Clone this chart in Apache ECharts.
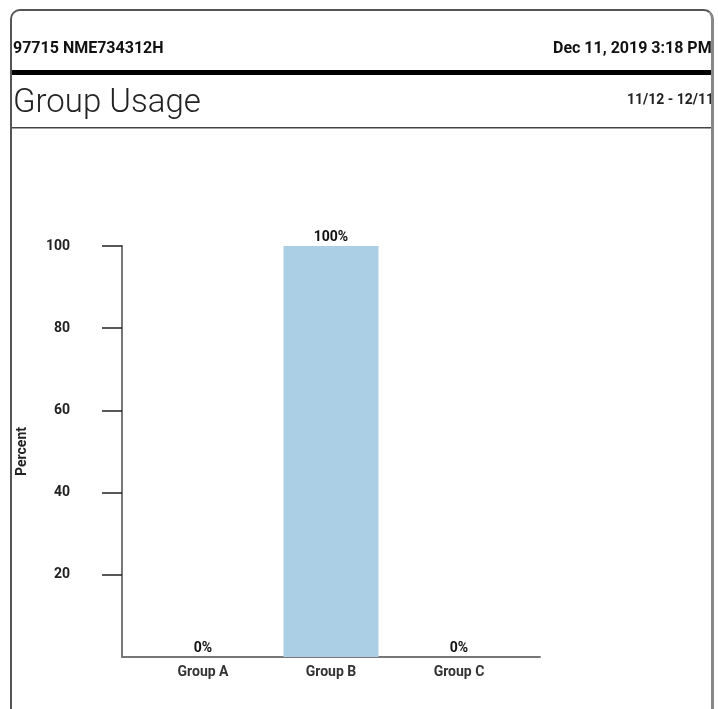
<!DOCTYPE html>
<html>
<head>
<meta charset="utf-8">
<script src="https://cdn.jsdelivr.net/npm/echarts@6/dist/echarts.min.js"></script>
<style>
  body { margin: 0; background: #fff; }
  #frame {
    position: absolute; left: 10px; top: 9px; width: 699px; height: 740px;
    border: 2px solid #555; border-right: 3px solid #888; border-radius: 10px;
    overflow: hidden; background: #fff;
  }
  #main { position: absolute; left: -12px; top: -11px; width: 760px; height: 740px; }
</style>
</head>
<body>
<div id="frame"><div id="main"></div></div>
<script>
const categories = ['Group A', 'Group B', 'Group C'];
const percentValues = [0, 100, 0];
const yTicks = [20, 40, 60, 80, 100];

document.addEventListener("DOMContentLoaded", () => {
    const chart = echarts.init(document.querySelector("#main"));
    const font = 'Roboto, "Liberation Sans", sans-serif';
    chart.setOption({
        animation: false,
        textStyle: { fontFamily: font },
        graphic: [
            { type: 'text', left: 13, top: 41, style: { text: '97715 NME734312H', font: 'bold 16px ' + font, fill: '#111' } },
            { type: 'text', left: 553, top: 41, style: { text: 'Dec 11, 2019 3:18 PM', font: 'bold 16px ' + font, fill: '#111' } },
            { type: 'rect', shape: { x: 12, y: 70, width: 720, height: 5 }, style: { fill: '#000' } },
            { type: 'text', left: 13, top: 87, style: { text: 'Group Usage', font: '300 33px ' + font, fill: '#222' } },
            { type: 'text', left: 627, top: 93, style: { text: '11/12 - 12/11', font: 'bold 14px ' + font, fill: '#222' } },
            { type: 'rect', shape: { x: 12, y: 127, width: 720, height: 1.5 }, style: { fill: '#444' } }
        ],
        grid: [
            { left: 122, width: 418, top: 246, height: 411 },
            { left: 139, width: 384, top: 246, height: 411 }
        ],
        xAxis: [
            {
                gridIndex: 0, type: 'value', min: 0, max: 1,
                axisLine: { show: true, lineStyle: { color: '#777', width: 2 } },
                axisTick: { show: false }, axisLabel: { show: false }, splitLine: { show: false }
            },
            {
                gridIndex: 1, type: 'category', data: categories,
                axisLine: { show: false }, axisTick: { show: false },
                axisLabel: { margin: 8, fontWeight: 'bold', fontSize: 14, color: '#333' }
            }
        ],
        yAxis: [
            {
                gridIndex: 0, type: 'value', min: 0, max: 100, interval: 20,
                name: 'Percent', nameLocation: 'middle', nameGap: 93,
                nameTextStyle: { fontWeight: 'bold', fontSize: 14, color: '#222' },
                axisLine: { show: true, lineStyle: { color: '#777', width: 2 } },
                axisTick: { show: true, length: 20, customValues: yTicks, lineStyle: { color: '#222', width: 1.5 } },
                axisLabel: {
                    margin: 52, fontWeight: 'bold', fontSize: 14, color: '#222',
                    customValues: yTicks
                },
                splitLine: { show: false }
            },
            {
                gridIndex: 1, type: 'value', min: 0, max: 100, show: false
            }
        ],
        series: [{
            type: 'bar',
            xAxisIndex: 1, yAxisIndex: 1,
            data: percentValues,
            barWidth: 95,
            itemStyle: { color: '#abcfe4' },
            label: {
                show: true, position: 'top', distance: 2,
                formatter: '{c}%', fontWeight: 'bold', fontSize: 14, color: '#111'
            },
            z: 1
        }]
    });
});
</script>
</body>
</html>
